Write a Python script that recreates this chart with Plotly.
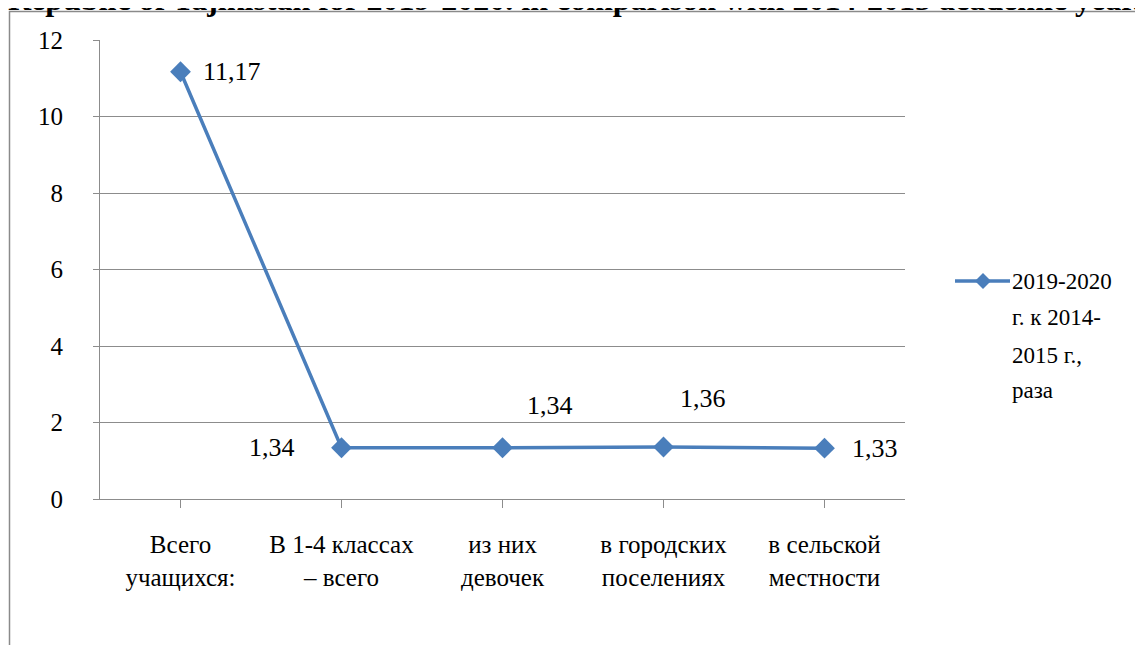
import plotly.graph_objects as go

# ---- data ----
categories = [
    "Всего<br>учащихся:",
    "В 1-4 классах<br>– всего",
    "из них<br>девочек",
    "в городских<br>поселениях",
    "в сельской<br>местности",
]
values = [11.17, 1.34, 1.34, 1.36, 1.33]
series_name_lines = ["2019-2020", "г. к 2014-", "2015 г.,", "раза"]
y_ticks = [0, 2, 4, 6, 8, 10, 12]
title_text = "Republic of Tajikistan for 2019-2020. in comparison with 2014-2015 academic year."

# ---- layout geometry (page pixels; the page has an 8px body margin) ----
OFF = 8
W, H = 1143, 645
PLOT_L, PLOT_R, PLOT_T, PLOT_B = 100, 905, 40, 499   # page coords of plot area
L = PLOT_L - OFF
T = PLOT_T - OFF
R = W - (PLOT_R - OFF)
B = H - (PLOT_B - OFF)
PW = PLOT_R - PLOT_L
PH = PLOT_B - PLOT_T

def px_x(px):
    return (px - PLOT_L) / PW

def px_y(py):
    return (PLOT_B - py) / PH

FONT = "Liberation Serif, serif"
LINE_COLOR = "#4A7EBB"
GRID = "#8c8c8c"

fig = go.Figure()
fig.add_trace(go.Scatter(
    x=list(range(len(categories))),
    y=values,
    mode="lines+markers",
    line=dict(color=LINE_COLOR, width=3.5),
    marker=dict(symbol="diamond", size=16, color=LINE_COLOR),
    showlegend=False,
    hoverinfo="skip",
))

# data labels (style offsets per point)
label_offsets = [
    dict(xanchor="left", xshift=20, yshift=0),
    dict(xanchor="right", xshift=-45, yshift=0),
    dict(xanchor="center", xshift=47, yshift=42),
    dict(xanchor="center", xshift=39, yshift=48),
    dict(xanchor="left", xshift=25, yshift=0),
]
annotations = []
for i, (v, off) in enumerate(zip(values, label_offsets)):
    annotations.append(dict(
        x=i, y=v, xref="x", yref="y",
        text=f"{v:.2f}".replace(".", ","),
        showarrow=False, yanchor="middle",
        font=dict(family=FONT, size=26, color="black"),
        **off,
    ))

# legend (manual, to keep the wide line spacing)
leg_y = [281, 318, 355, 390]
for txt, py in zip(series_name_lines, leg_y):
    annotations.append(dict(
        x=px_x(1010), y=px_y(py), xref="paper", yref="paper",
        text=txt, showarrow=False, xanchor="left", yanchor="middle",
        font=dict(family=FONT, size=23, color="black"),
    ))

# title, clipped at the top of the page as in the source image
annotations.append(dict(
    x=px_x(6), y=px_y(-1), xref="paper", yref="paper",
    text=f"<b>{title_text}</b>", showarrow=False,
    xanchor="left", yanchor="middle",
    font=dict(family=FONT, size=32, color="black"),
))

shapes = [
    # outer chart border
    dict(type="rect", xref="paper", yref="paper",
         x0=px_x(9.5), x1=px_x(1300), y0=px_y(11.5), y1=px_y(800),
         line=dict(color="#8a8a8a", width=1.5), fillcolor="rgba(0,0,0,0)",
         layer="below"),
    # legend line
    dict(type="line", xref="paper", yref="paper",
         x0=px_x(955), x1=px_x(1010), y0=px_y(281), y1=px_y(281),
         line=dict(color=LINE_COLOR, width=3.5)),
]
# legend diamond
cx, cy, r = 983, 281, 8
shapes.append(dict(
    type="path", xref="paper", yref="paper",
    path=(f"M {px_x(cx - r)} {px_y(cy)} L {px_x(cx)} {px_y(cy - r)} "
          f"L {px_x(cx + r)} {px_y(cy)} L {px_x(cx)} {px_y(cy + r)} Z"),
    fillcolor=LINE_COLOR, line=dict(color=LINE_COLOR, width=0),
))

fig.update_layout(
    width=W, height=H,
    margin=dict(l=L, r=R, t=T, b=B, pad=0),
    paper_bgcolor="white", plot_bgcolor="white",
    font=dict(family=FONT, size=24, color="black"),
    annotations=annotations,
    shapes=shapes,
    showlegend=False,
)
fig.update_xaxes(
    tickmode="array", tickvals=list(range(len(categories))), ticktext=categories,
    range=[-0.5, len(categories) - 0.5],
    showline=True, linecolor=GRID, linewidth=1.2,
    ticks="outside", ticklen=8, tickcolor=GRID, tickson="boundaries",
    showgrid=False, zeroline=False,
    ticklabelstandoff=15,
    tickfont=dict(family=FONT, size=25, color="black"),
)
fig.update_yaxes(
    range=[0, 12], tickvals=y_ticks,
    showline=True, linecolor=GRID, linewidth=1.2,
    ticks="outside", ticklen=6, tickcolor=GRID,
    showgrid=True, gridcolor=GRID, gridwidth=1.2, zeroline=False,
    ticklabelstandoff=25,
    tickfont=dict(family=FONT, size=25, color="black"),
)

fig.write_html("out.html")
